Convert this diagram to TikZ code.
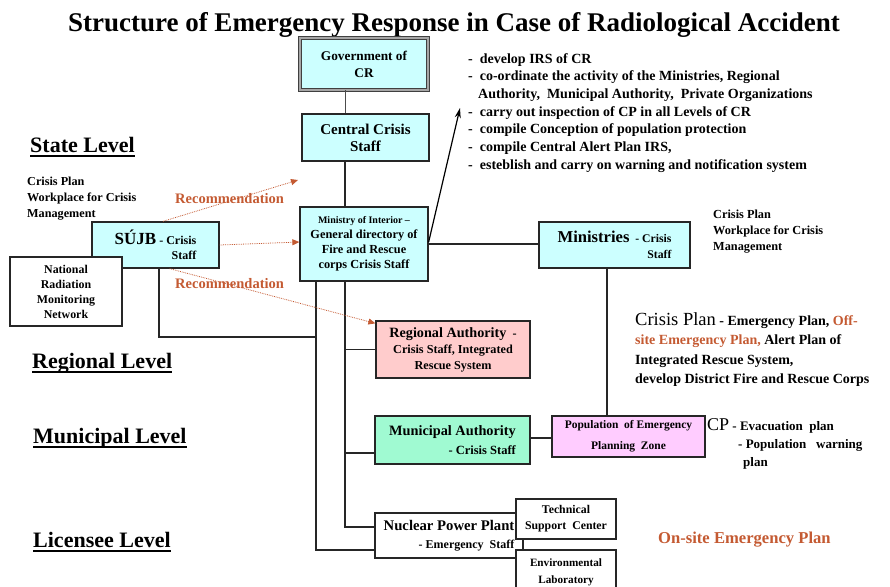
\documentclass[tikz,border=0pt]{standalone}
\usepackage{fontspec}
\setmainfont{Liberation Serif}
\usetikzlibrary{arrows.meta}

\definecolor{boxcyan}{HTML}{CCFFFF}
\definecolor{boxpink}{HTML}{FFCCFF}
\definecolor{boxsalmon}{HTML}{FFCCCC}
\definecolor{boxgreen}{HTML}{A0FAD2}
\definecolor{recorange}{HTML}{C45A32}

\newcommand{\fsz}[2]{\fontsize{#1}{#2}\selectfont}
\newsavebox{\lvlbox}
\newcommand{\lvlul}[1]{\sbox{\lvlbox}{#1}\rlap{\rule[-5pt]{\wd\lvlbox}{1.8pt}}\usebox{\lvlbox}}

\tikzstyle{orgbox} = [draw=black!85, line width=1.3pt, fill=boxcyan, inner sep=0pt, align=center]
\tikzstyle{plainbox} = [orgbox, fill=white]
\tikzstyle{note} = [inner sep=0pt, anchor=north west, align=left]
\tikzstyle{level} = [inner sep=0pt, anchor=base west, font=\bfseries\fsz{22}{22}]
\tikzstyle{link} = [draw=black!85, line width=1.3pt]
\tikzstyle{recarrow} = [draw=recorange, densely dotted, line width=0.8pt, -{Triangle[length=7pt,width=6pt]}]

\begin{document}
\begin{tikzpicture}[x=1pt, y=-1pt]
        \clip (0,0) rectangle (890,586);
        \useasboundingbox (0,0) rectangle (890,586);

        % title and levels
        \node[anchor=base, inner sep=0pt, font=\bfseries\fsz{27}{27}] (title) at (454,32) {Structure of Emergency Response in Case of Radiological Accident};
        \node[level] (state) at (30,152) {\lvlul{State Level}};
        \node[level] (regional) at (32,368) {\lvlul{Regional Level}};
        \node[level] (municipal) at (33,443) {\lvlul{Municipal Level}};
        \node[level] (licensee) at (33,547) {\lvlul{Licensee Level}};

        % boxes
        \node[orgbox, draw=black!75, line width=0.8pt, double=gray!70, double distance=1.6pt, minimum width=128pt, minimum height=52pt, font=\bfseries\fsz{13.3}{17}] (gov) at (364,64) {Government of\\CR};
        \node[orgbox, minimum width=127pt, minimum height=47pt, font=\bfseries\fsz{15}{17}] (css) at (365.5,137.5) {Central Crisis\\Staff};
        \node[orgbox, minimum width=128pt, minimum height=74pt, font=\bfseries\fsz{12.3}{15}] (moi) at (364,244) {{\fsz{10}{15}Ministry of Interior --}\\General directory of\\Fire and Rescue\\corps Crisis Staff};
        \node[orgbox, align=right, minimum width=127pt, minimum height=46pt, font=\bfseries\fsz{12}{14.5}] (sujb) at (155.5,245) {{\fsz{17}{14.5}SÚJB} - Crisis\\Staff};
        \node[plainbox, minimum width=112pt, minimum height=69pt, font=\bfseries\fsz{11.9}{15}] (nrmn) at (66,291.5) {National\\Radiation\\Monitoring\\Network};
        \node[orgbox, align=right, minimum width=151pt, minimum height=46pt, font=\bfseries\fsz{11.7}{16}] (min) at (614.5,245) {{\fsz{16.6}{16}Ministries} \ - Crisis\\Staff};
        \node[orgbox, fill=boxsalmon, minimum width=154pt, minimum height=57pt, font=\bfseries\fsz{12.2}{16}] (reg) at (453,349.5) {{\fsz{14.2}{16}Regional Authority} \ -\\Crisis Staff, Integrated\\Rescue System};
        \node[orgbox, fill=boxgreen, align=right, minimum width=155pt, minimum height=48pt, font=\bfseries\fsz{12.5}{19}] (mun) at (452.5,440) {{\fsz{14.3}{19}Municipal Authority}\\- Crisis Staff};
        \node[orgbox, fill=boxpink, minimum width=153pt, minimum height=41pt, font=\bfseries\fsz{11.5}{21}] (pop) at (628.5,436.5) {Population \ of Emergency\\Planning \ Zone};
        \node[plainbox, align=right, minimum width=148pt, minimum height=45pt, font=\bfseries\fsz{12}{18}] (npp) at (449,535.5) {{\fsz{14.7}{18}Nuclear Power Plant}\\- Emergency \ Staff};
        \node[plainbox, minimum width=100pt, minimum height=40pt, font=\bfseries\fsz{11.8}{16}] (tsc) at (566,519) {Technical\\Support \ Center};
        \node[plainbox, minimum width=100pt, minimum height=44pt, font=\bfseries\fsz{11.2}{17}] (env) at (566,572) {Environmental\\Laboratory};

        % notes
        \node[note, font=\bfseries\fsz{12.2}{16}] (sujbplan) at (27,177) {Crisis Plan\\Workplace for Crisis\\Management};
        \node[note, font=\bfseries\fsz{12.3}{16}] (minplan) at (713,210) {Crisis Plan\\Workplace for Crisis\\Management};
        \node[note, font=\bfseries\fsz{14}{17.7}] (irs) at (468,53) {-\ \ develop IRS of CR\\
            -\ \ co-ordinate the activity of the Ministries, Regional\\
            \hspace*{10pt}Authority, \ Municipal Authority, \ Private Organizations\\
            -\ \ carry out inspection of CP in all Levels of CR\\
            -\ \ compile Conception of population protection\\
            -\ \ compile Central Alert Plan IRS,\\
            -\ \ esteblish and carry on warning and notification system};
        \node[note, font=\bfseries\fsz{14}{19.5}] (regplan) at (635,312) {{\mdseries\fsz{18.5}{19.5}Crisis Plan} - Emergency Plan, \textcolor{recorange}{Off-}\\
            \textcolor{recorange}{site Emergency Plan,} Alert Plan of\\
            Integrated Rescue System,\\
            develop District Fire and Rescue Corps};
        \node[note, font=\bfseries\fsz{13}{18}] (popplan) at (707,418) {{\mdseries\fsz{18}{18}CP} - Evacuation \ plan\\
            \hspace*{31pt}- Population \ \ warning\\
            \hspace*{36pt}plan};
        \node[anchor=base west, inner sep=0pt, text=recorange, font=\bfseries\fsz{16.6}{18}] (onsite) at (658,543) {On-site Emergency Plan};
        \node[anchor=base west, inner sep=0pt, text=recorange, font=\bfseries\fsz{14.5}{16}] (rec1) at (175,203) {Recommendation};
        \node[anchor=base west, inner sep=0pt, text=recorange, font=\bfseries\fsz{14.5}{16}] (rec2) at (175,288) {Recommendation};

        % connectors
        \coordinate (spine) at (345,0);
        \coordinate (outer) at (316,0);
        \coordinate (sujbjoin) at (316,337);
        \coordinate (irstip) at (460,108);
        \coordinate (csstip) at (298,180);

        \draw[draw=black!70, line width=0.9pt] (gov.south -| spine) -- (css.north -| spine);
        \draw[link] (css.south -| spine) -- (moi.north -| spine);
        \draw[link] (moi.south -| outer) |- ([yshift=-14.5pt]npp.west);
        \draw[link] (moi.south -| spine) |- ([yshift=8.5pt]npp.west);
        \draw[link] (spine |- reg.west) -- (reg.west);
        \draw[link] ([yshift=-13pt]mun.west -| spine) -- ([yshift=-13pt]mun.west);
        \draw[link] ([xshift=3.5pt]sujb.south) |- (sujbjoin);
        \draw[link] (moi.east) -- (moi.east -| min.west);
        \draw[link] ([xshift=-7.5pt]min.south) -- ([xshift=-7.5pt]min.south |- pop.north);
        \draw[link] ([yshift=2pt]mun.east) -- ([yshift=2pt]mun.east -| pop.west);
        \draw[line width=1.2pt, -{Stealth[length=10pt,width=6pt]}] ([yshift=2pt]moi.east) -- (irstip);

        \draw[recarrow] ([xshift=7.5pt]sujb.north) -- (csstip);
        \draw[recarrow] (sujb.east) -- ([yshift=2pt]moi.west);
        \draw[recarrow] ([xshift=-50pt]sujb.south east) -- ([yshift=-3pt]reg.north west);
\end{tikzpicture}
\end{document}
